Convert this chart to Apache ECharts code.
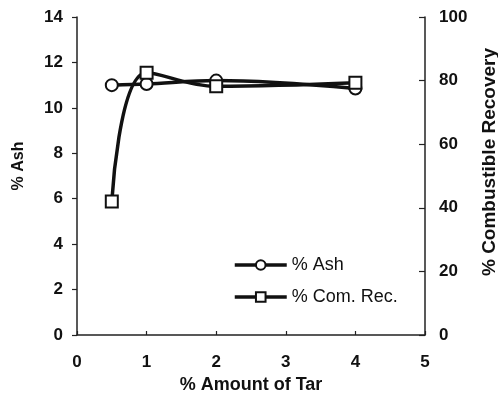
<!DOCTYPE html>
<html>
<head>
<meta charset="utf-8">
<script src="https://cdn.jsdelivr.net/npm/echarts@6/dist/echarts.min.js"></script>
<style>
  html, body { margin: 0; padding: 0; background: #fff; }
  #chart { width: 498px; height: 397px; }
</style>
</head>
<body>
<div id="chart"></div>
<script>
// tar amount (%) on x
const tar = [0.5, 1, 2, 4]
// % ash, left axis
const ash = [11.0, 11.05, 11.2, 10.85]
// % combustible recovery, right axis
const comRec = [42, 82.5, 78.2, 79.3]

const font = 'Liberation Sans, Arial, sans-serif'

const chart = echarts.init(document.getElementById('chart'))

const axisCommon = {
  axisLine: { show: true, lineStyle: { color: '#222', width: 1.5 } },
  axisTick: { show: true, length: 5, lineStyle: { color: '#222', width: 1.2 } },
  axisLabel: { color: '#111', fontWeight: 'bold', fontSize: 17, fontFamily: font },
  splitLine: { show: false }
}

const nameStyle = (size) => ({ color: '#111', fontWeight: 'bold', fontSize: size, fontFamily: font })

const option = {
  animation: false,
  // keep the plot box fixed, names may sit near the edge
  grid: { left: 77, right: 73, top: 17, bottom: 62, outerBoundsMode: 'none', containLabel: false },
  legend: {
    orient: 'vertical',
    left: 233,
    top: 256,
    padding: 0,
    itemWidth: 52,
    itemHeight: 12,
    itemGap: 14,
    lineStyle: { width: 3.5, color: '#111' },
    textStyle: { color: '#111', fontSize: 18, lineHeight: 18, fontFamily: font },
    data: ['% Ash', '% Com. Rec.']
  },
  xAxis: {
    type: 'value',
    min: 0, max: 5, interval: 1,
    name: '% Amount of Tar',
    nameLocation: 'middle',
    nameGap: 41,
    nameTextStyle: nameStyle(18),
    ...axisCommon,
    axisTick: { show: true, inside: true, length: 4, lineStyle: { color: '#222', width: 1.2 } },
    axisLabel: { ...axisCommon.axisLabel, margin: 19 }
  },
  yAxis: [
    {
      type: 'value',
      min: 0, max: 14, interval: 2,
      name: '% Ash',
      nameLocation: 'middle',
      nameGap: 50,
      nameTextStyle: { ...nameStyle(16), padding: [0, 0, 0, 20] },
      ...axisCommon,
      axisLabel: { ...axisCommon.axisLabel, margin: 14 }
    },
    {
      type: 'value',
      position: 'right',
      min: 0, max: 100, interval: 20,
      name: '% Combustible Recovery',
      nameLocation: 'middle',
      nameGap: 55,
      nameRotate: 90,
      nameTextStyle: { ...nameStyle(19), padding: [0, 0, 0, 28] },
      ...axisCommon,
      axisTick: { show: true, inside: true, length: 6, lineStyle: { color: '#222', width: 1.2 } },
      axisLabel: { ...axisCommon.axisLabel, margin: 14 }
    }
  ],
  series: [
    {
      name: '% Ash',
      type: 'line',
      smooth: 0.35,
      yAxisIndex: 0,
      data: tar.map((x, i) => [x, ash[i]]),
      symbol: 'circle',
      symbolSize: 12,
      lineStyle: { color: '#111', width: 3.5 },
      itemStyle: { color: '#fff', borderColor: '#111', borderWidth: 2 }
    },
    {
      name: '% Com. Rec.',
      type: 'line',
      smooth: 0.4,
      yAxisIndex: 1,
      data: tar.map((x, i) => [x, comRec[i]]),
      symbol: 'rect',
      symbolSize: 12,
      lineStyle: { color: '#111', width: 3.5 },
      itemStyle: { color: '#fff', borderColor: '#111', borderWidth: 2 }
    }
  ]
}

chart.setOption(option)
</script>
</body>
</html>
